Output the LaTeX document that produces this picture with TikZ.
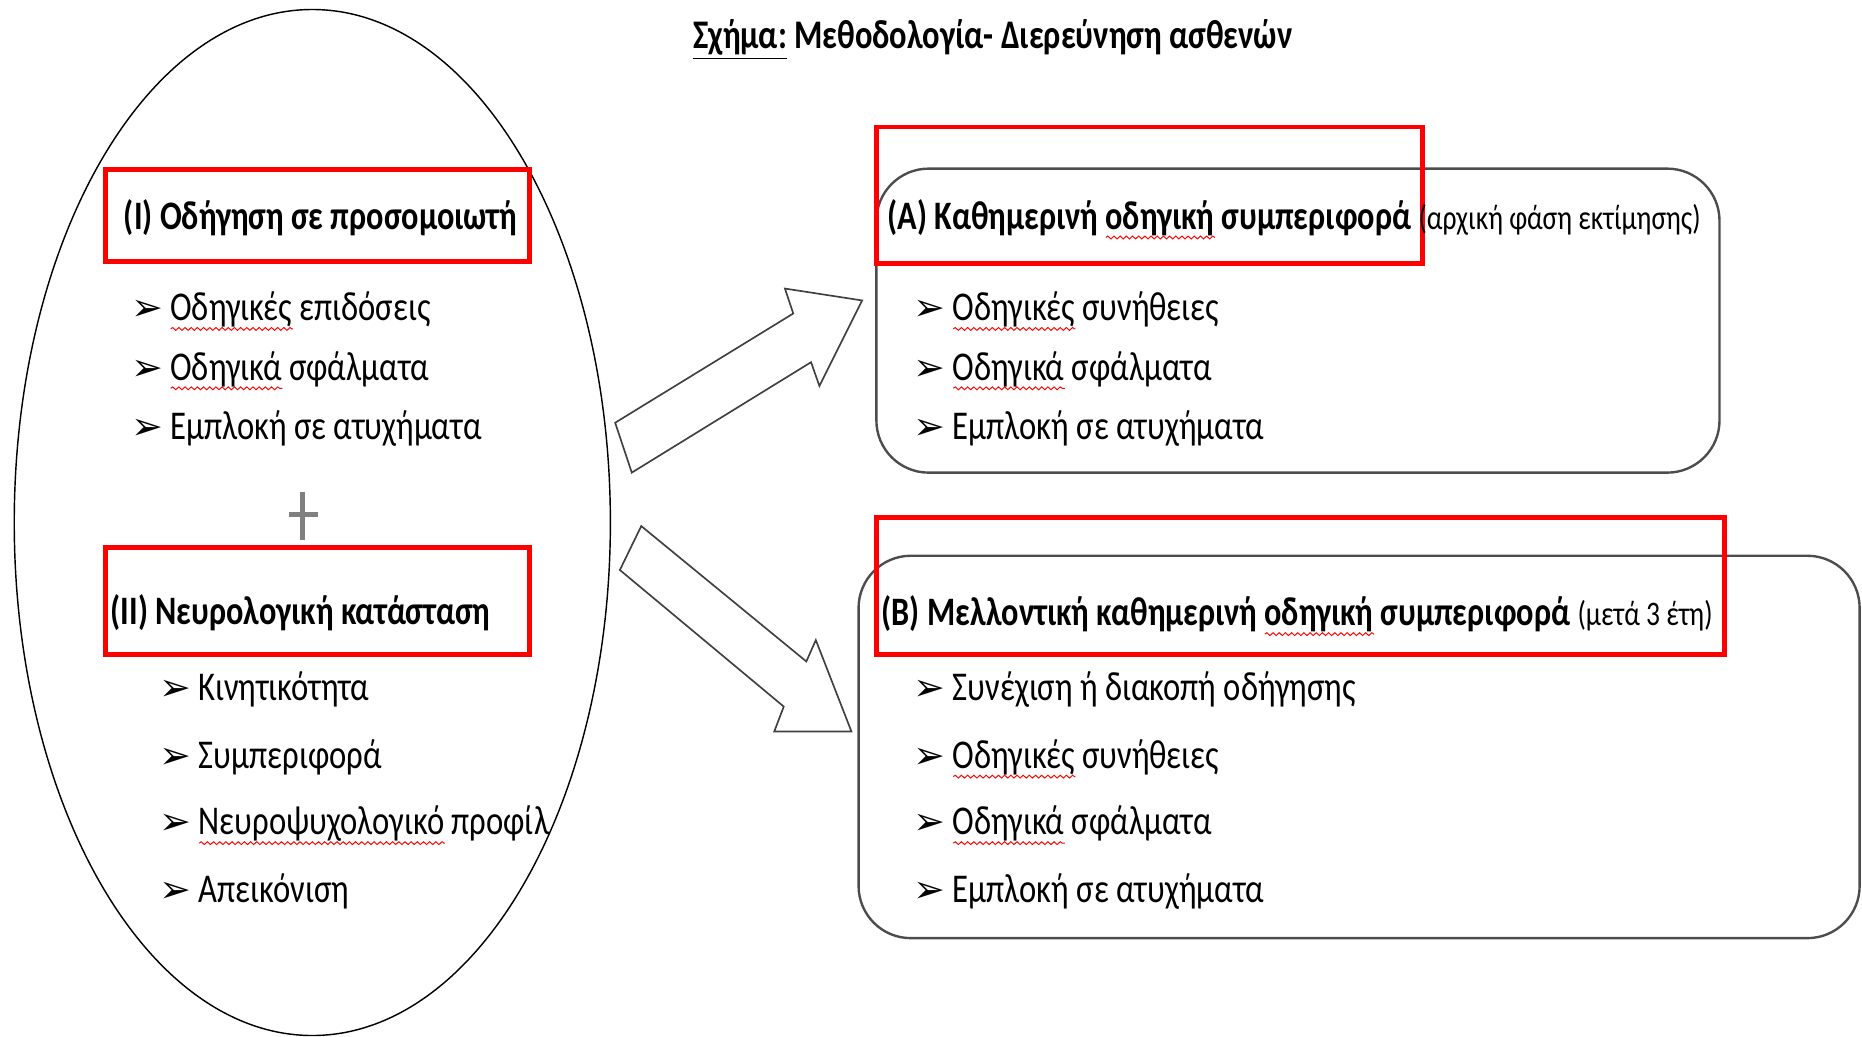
\documentclass[tikz,border=0pt]{standalone}
\usepackage{fontspec}
\setmainfont{Carlito}[FakeStretch=0.8]
\newfontfamily\dingfont{DejaVu Sans}
\usetikzlibrary{positioning, decorations.pathmorphing}

\newlength{\spellw}
\newcommand{\bul}{\makebox[16.5pt][l]{\dingfont\fontsize{16}{16}\selectfont ➢}}
\newcommand{\notefont}{\fontsize{14.5}{16}\selectfont\mdseries}
\newcommand{\spell}[1]{\settowidth{\spellw}{#1}\rlap{\tikz[baseline=0pt, x=1pt, y=1pt]
  \draw[red, line width=0.4pt, decorate, decoration={snake, amplitude=0.6pt, segment length=2.6pt}]
  (0pt,-3.5pt) -- (\spellw,-3.5pt);}#1}

\begin{document}
\begin{tikzpicture}[x=0.5pt, y=-0.5pt,
  item/.style={anchor=base west, inner sep=0pt, font=\fontsize{17.2}{21}\selectfont},
  head/.style={anchor=base west, inner sep=0pt, font=\fontsize{17}{21}\selectfont\bfseries},
  redbox/.style={draw=red, line width=2pt},
  roundbox/.style={draw=black!70, line width=1pt, rounded corners=22pt},
  blockarrow/.style={draw=black!75, line width=0.7pt, fill=white, line join=miter}]
\useasboundingbox (0,0) rectangle (1568,873);

% title
\node[anchor=base, inner sep=0pt, font=\fontsize{17.1}{21}\selectfont\bfseries] (title) at (836,41)
  {\underline{Σχήμα:} Μεθοδολογία- Διερεύνηση ασθενών};

% left ellipse
\draw[line width=0.6pt] (263,440) ellipse [x radius=251, y radius=432];
\draw[redbox] (89,143) rectangle (446,220);
\draw[redbox] (89,461) rectangle (446,551);
\node[head] (simI) at (104,193) {(I) Οδήγηση σε προσομοιωτή};
\node[item] (s1) at (110,270) {\bul\spell{Οδηγικές} επιδόσεις};
\node[item] (s2) at (110,320) {\bul\spell{Οδηγικά} σφάλματα};
\node[item] (s3) at (110,370) {\bul Εμπλοκή σε ατυχήματα};
\draw[gray, line width=2pt] (255,414) -- (255,455) (243,433) -- (268,433);
\node[head] (neuII) at (93,526) {(II) Νευρολογική κατάσταση};
\node[item] (n1) at (134,590) {\bul Κινητικότητα};
\node[item] (n2) at (134,647) {\bul Συμπεριφορά};
\node[item] (n3) at (134,703) {\bul\spell{Νευροψυχολογικό} προφίλ};
\node[item] (n4) at (134,760) {\bul Απεικόνιση};

% block arrows
\draw[blockarrow] (518,356) -- (668,264) -- (661,243) -- (726,253)
  -- (690,325) -- (683,305) -- (532,398) -- cycle;
\draw[blockarrow] (540,443) -- (679,557) -- (687,539) -- (717,616)
  -- (652,616) -- (660,595) -- (522,480) -- cycle;

% box A
\draw[roundbox] (738,142) rectangle (1448,398);
\draw[redbox] (738,107) rectangle (1198,222);
\node[head] (dayA) at (747,193) {(A) Καθημερινή \spell{οδηγική} συμπεριφορά {\notefont(αρχική φάση εκτίμησης)}};
\node[item] (a1) at (769,270) {\bul\spell{Οδηγικές} συνήθειες};
\node[item] (a2) at (769,320) {\bul\spell{Οδηγικά} σφάλματα};
\node[item] (a3) at (769,370) {\bul Εμπλοκή σε ατυχήματα};

% box B
\draw[roundbox] (723,468) rectangle (1566,790);
\draw[redbox] (738,436) rectangle (1452,551);
\node[head] (futB) at (742,527) {(B) Μελλοντική καθημερινή \spell{οδηγική} συμπεριφορά {\notefont(μετά 3 έτη)}};
\node[item] (b1) at (769,590) {\bul Συνέχιση ή διακοπή οδήγησης};
\node[item] (b2) at (769,647) {\bul\spell{Οδηγικές} συνήθειες};
\node[item] (b3) at (769,703) {\bul\spell{Οδηγικά} σφάλματα};
\node[item] (b4) at (769,760) {\bul Εμπλοκή σε ατυχήματα};
\end{tikzpicture}
\end{document}
